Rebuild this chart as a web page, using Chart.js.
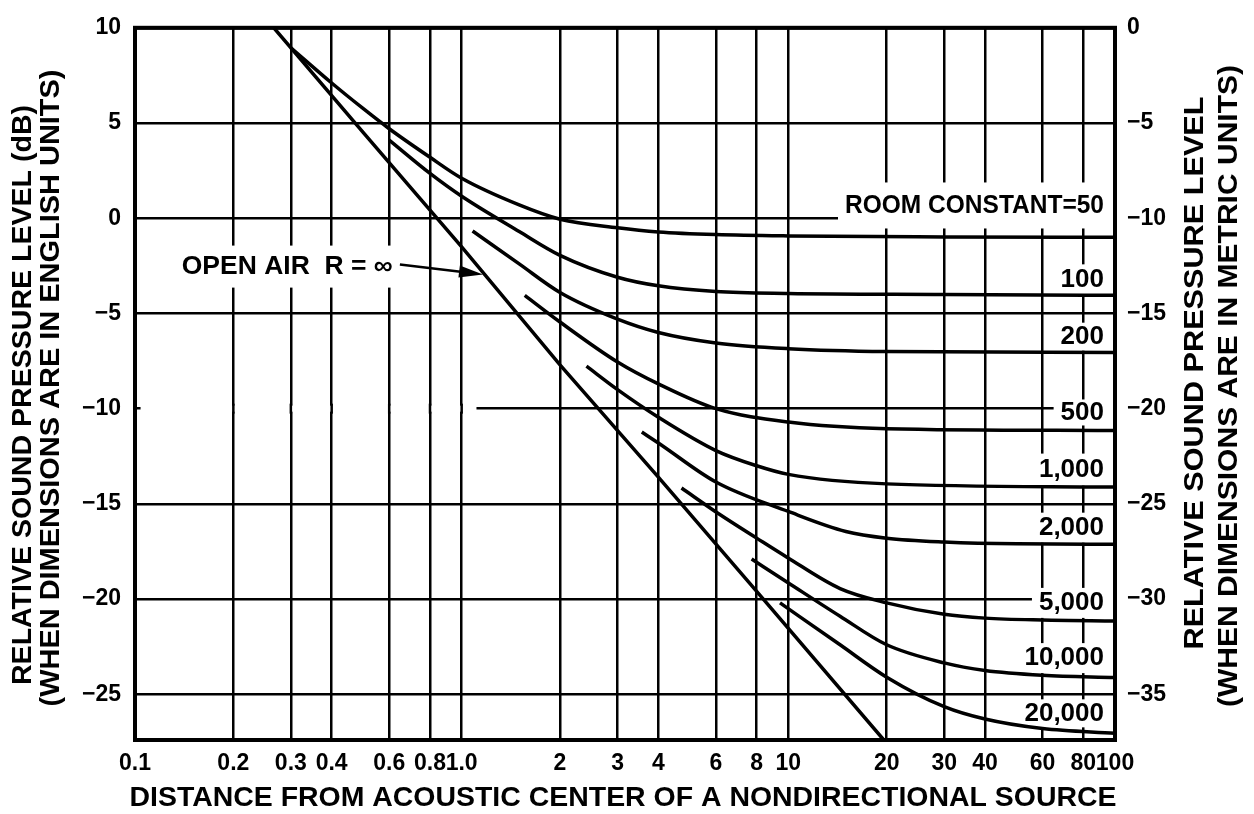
<!DOCTYPE html>
<html>
<head>
<meta charset="utf-8">
<script src="https://cdn.jsdelivr.net/npm/chart.js@4"></script>
<style>
  html, body { margin: 0; padding: 0; background: #fff; }
  #wrap { width: 1254px; height: 814px; }
</style>
</head>
<body>
<div id="wrap"><canvas id="chart" width="1254" height="814"></canvas></div>
<script>
// distance ticks (log axis) and level ticks
const xTickValues = [0.1, 0.2, 0.3, 0.4, 0.6, 0.8, 1, 2, 3, 4, 6, 8, 10, 20, 30, 40, 60, 80, 100];
const xTickLabels = ['0.1', '0.2', '0.3', '0.4', '0.6', '0.8', '1.0', '2', '3', '4', '6', '8', '10', '20', '30', '40', '60', '80', '100'];
const leftTicks = [10, 5, 0, -5, -10, -15, -20, -25];
const rightTicks = [0, -5, -10, -15, -20, -25, -30, -35];

// curves: distance / relative level (dB, english units)
const openAirDist = [0.266, 0.5, 1, 2, 4, 8, 19.6];
const openAirDb = [10, 4.5, -1.5, -7.7, -13.6, -19.6, -27.4];

const rc50Dist = [0.3, 0.4, 0.5, 0.6, 0.8, 1, 1.5, 2, 3, 4, 6, 10, 30, 100];
const rc50Db = [8.95, 7.1, 5.75, 4.7, 3.2, 2.1, 0.7, -0.05, -0.5, -0.72, -0.86, -0.93, -0.98, -1.0];

const rc100Dist = [0.6, 0.8, 1, 1.5, 2, 3, 4, 6, 10, 30, 100];
const rc100Db = [4.1, 2.35, 1.15, -0.7, -1.95, -3.1, -3.55, -3.85, -3.95, -4.0, -4.05];

const rc200Dist = [1.08, 1.5, 2, 3, 4, 6, 10, 20, 100];
const rc200Db = [-0.67, -2.4, -3.9, -5.3, -6.0, -6.55, -6.85, -7.0, -7.05];

const rc500Dist = [1.56, 2, 3, 4, 6, 10, 20, 100];
const rc500Db = [-4.05, -5.45, -7.55, -8.7, -10.0, -10.7, -11.05, -11.15];

const rc1000Dist = [2.41, 3, 4, 6, 8, 10, 20, 100];
const rc1000Db = [-7.77, -9.0, -10.45, -12.2, -13.0, -13.45, -13.95, -14.12];

const rc2000Dist = [3.56, 4, 6, 10, 15, 20, 30, 50, 100];
const rc2000Db = [-11.23, -11.8, -13.85, -15.4, -16.45, -16.8, -17.0, -17.1, -17.12];

const rc5000Dist = [4.71, 6.17, 8, 9.9, 14.4, 20, 30, 40, 60, 100];
const rc5000Db = [-14.17, -15.56, -16.8, -17.8, -19.45, -20.2, -20.8, -21.0, -21.1, -21.15];

const rc10000Dist = [7.72, 9.9, 14.4, 20, 30, 40, 60, 100];
const rc10000Db = [-17.9, -19.1, -20.9, -22.4, -23.35, -23.75, -24.0, -24.12];

const rc20000Dist = [9.43, 14.4, 20, 30, 40, 60, 100];
const rc20000Db = [-20.2, -22.4, -24.1, -25.65, -26.3, -26.8, -27.05];

const curveLabels = ['ROOM CONSTANT=50', '100', '200', '500', '1,000', '2,000', '5,000', '10,000', '20,000'];

const FONT = '"Liberation Sans", Arial, sans-serif';
Chart.defaults.font.family = FONT;
Chart.defaults.color = '#000';

const curves = [
  [openAirDist, openAirDb, 0],
  [rc50Dist, rc50Db], [rc100Dist, rc100Db], [rc200Dist, rc200Db],
  [rc500Dist, rc500Db], [rc1000Dist, rc1000Db], [rc2000Dist, rc2000Db],
  [rc5000Dist, rc5000Db], [rc10000Dist, rc10000Db], [rc20000Dist, rc20000Db]
];

const datasets = curves.map(([d, db, straight]) => ({
  data: d.map((v, i) => ({ x: v, y: db[i] })),
  showLine: true,
  borderColor: '#000',
  borderWidth: 3.5,
  pointRadius: 0,
  cubicInterpolationMode: straight === 0 ? 'default' : 'monotone',
  tension: 0
}));

// text squeezed to a given width
function fitText(ctx, text, x, y, size, width, angle, align) {
  ctx.save();
  ctx.translate(x, y);
  if (angle) ctx.rotate(angle);
  ctx.font = `bold ${size}px ${FONT}`;
  const w = ctx.measureText(text).width;
  if (width) ctx.scale(width / w, 1);
  ctx.textAlign = align || 'center';
  ctx.textBaseline = 'middle';
  ctx.fillStyle = '#000';
  ctx.fillText(text, 0, 0);
  ctx.restore();
}

const minus = v => String(v).replace('-', '\u2212');

// label centre (dB) and half height of the white patch behind it
const labelPlace = [[0.67, 23], [-3.21, 15], [-6.22, 14], [-10.2, 13], [-13.2, 16], [-16.25, 15], [-20.2, 15], [-23.1, 15], [-26.0, 14]];

const annotations = {
  id: 'annotations',
  beforeDatasetsDraw(chart) {
    const { ctx, chartArea: a, scales: { x, y } } = chart;
    ctx.save();

    // gap in the -10 grid line on the left
    const gy = y.getPixelForValue(-10);
    const gx0 = x.getPixelForValue(0.104), gx1 = x.getPixelForValue(1.11);
    ctx.fillStyle = '#fff';
    ctx.fillRect(gx0, gy - 3, gx1 - gx0, 6);
    ctx.strokeStyle = '#000';
    ctx.lineWidth = 2.5;
    xTickValues.forEach(v => {
      const px = x.getPixelForValue(v);
      if (px > gx0 && px < gx1) {
        ctx.beginPath(); ctx.moveTo(px, gy - 5); ctx.lineTo(px, gy + 5); ctx.stroke();
      }
    });

    // room constant labels
    const right = a.right - 11;
    curveLabels.forEach((t, i) => {
      const [db, half] = labelPlace[i];
      const cy = y.getPixelForValue(db);
      ctx.font = `bold 26px ${FONT}`;
      const w = i === 0 ? 259 : ctx.measureText(t).width;
      ctx.fillStyle = '#fff';
      ctx.fillRect(right - w - 7, cy - half, a.right - (right - w - 7) - 2, half * 2);
      fitText(ctx, t, right, cy, 26, i === 0 ? 259 : null, 0, 'right');
    });

    // open air label + arrow
    const lx = x.getPixelForValue(0.139), ly = y.getPixelForValue(-2.54);
    ctx.fillStyle = '#fff';
    ctx.fillRect(lx - 7, ly - 21, 225, 42);
    fitText(ctx, 'OPEN AIR  R = \u221E', lx, ly, 26, 211, 0, 'left');

    const ax0 = x.getPixelForValue(0.647), ay0 = y.getPixelForValue(-2.43);
    const ax1 = x.getPixelForValue(1.162), ay1 = y.getPixelForValue(-2.95);
    const ang = Math.atan2(ay1 - ay0, ax1 - ax0);
    ctx.strokeStyle = '#000';
    ctx.lineWidth = 2.5;
    ctx.beginPath(); ctx.moveTo(ax0, ay0); ctx.lineTo(ax1 - 10 * Math.cos(ang), ay1 - 10 * Math.sin(ang)); ctx.stroke();
    ctx.save();
    ctx.translate(ax1, ay1);
    ctx.rotate(ang);
    ctx.fillStyle = '#000';
    ctx.beginPath(); ctx.moveTo(0, 0); ctx.lineTo(-24, -6); ctx.lineTo(-24, 6); ctx.closePath(); ctx.fill();
    ctx.restore();

    ctx.restore();
  },
  afterDatasetsDraw(chart) {
    const { ctx, chartArea: a } = chart;
    ctx.save();
    ctx.strokeStyle = '#000';
    ctx.lineWidth = 4;
    ctx.strokeRect(a.left, a.top, a.right - a.left, a.bottom - a.top);
    ctx.restore();
  },
  afterDraw(chart) {
    const { ctx } = chart;
    const up = -Math.PI / 2;
    fitText(ctx, 'DISTANCE FROM ACOUSTIC CENTER OF A NONDIRECTIONAL SOURCE', 623, 798, 28, 987, 0);
    fitText(ctx, 'RELATIVE SOUND PRESSURE LEVEL (dB)', 23, 395, 28, 580, up);
    fitText(ctx, '(WHEN DIMENSIONS ARE IN ENGLISH UNITS)', 51, 388, 28, 637, up);
    fitText(ctx, 'RELATIVE SOUND PRESSURE LEVEL', 1195, 373, 28, 553, up);
    fitText(ctx, '(WHEN DIMENSIONS ARE IN METRIC UNITS)', 1229, 386, 28, 642, up);
  }
};

new Chart(document.getElementById('chart'), {
  type: 'scatter',
  data: { datasets },
  options: {
    responsive: false,
    animation: false,
    events: [],
    layout: { padding: { top: 18, left: 0, right: 0, bottom: 0 } },
    plugins: { legend: { display: false }, tooltip: { enabled: false } },
    scales: {
      x: {
        type: 'logarithmic',
        position: 'bottom',
        min: 0.1,
        max: 100,
        afterBuildTicks: s => { s.ticks = xTickValues.map(v => ({ value: v })); },
        afterFit: s => { s.height = 74; },
        border: { display: false },
        grid: { color: '#000', lineWidth: 2.5, drawTicks: false },
        ticks: {
          autoSkip: false, maxRotation: 0, minRotation: 0, padding: 10,
          font: { size: 23, weight: 'bold' },
          callback: v => xTickLabels[xTickValues.indexOf(v)] ?? ''
        }
      },
      y: {
        type: 'linear',
        position: 'left',
        min: -27.4,
        max: 10,
        afterBuildTicks: s => { s.ticks = leftTicks.map(v => ({ value: v })); },
        afterFit: s => { s.width = 135; },
        border: { display: false },
        grid: { color: '#000', lineWidth: 2.5, drawTicks: false },
        ticks: { padding: 14, font: { size: 23, weight: 'bold' }, callback: minus }
      },
      y2: {
        type: 'linear',
        position: 'right',
        min: -37.4,
        max: 0,
        afterBuildTicks: s => { s.ticks = rightTicks.map(v => ({ value: v })); },
        afterFit: s => { s.width = 139; },
        border: { display: false },
        grid: { display: false, drawTicks: false },
        ticks: { padding: 12, font: { size: 23, weight: 'bold' }, callback: minus }
      }
    }
  },
  plugins: [annotations]
});
</script>
</body>
</html>
